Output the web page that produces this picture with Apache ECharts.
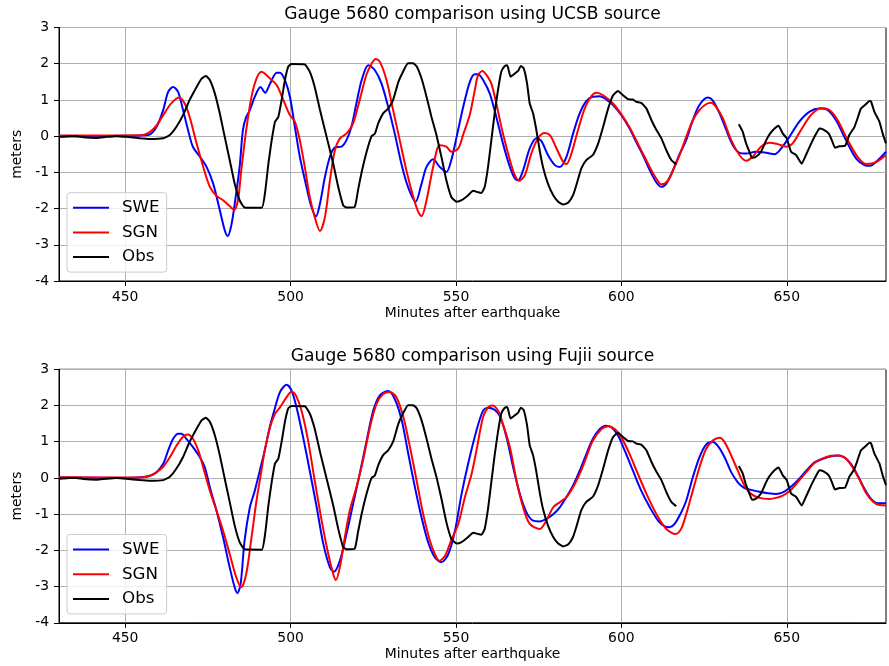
<!DOCTYPE html>
<html><head><meta charset="utf-8">
<script src="https://cdn.jsdelivr.net/npm/echarts@6/dist/echarts.min.js"></script>
<style>html,body{margin:0;padding:0;background:#fff}#c{width:889px;height:666px}</style>
</head><body><div id="c"></div>
<script>
// ---- data (minutes after earthquake, meters) ----
const xTicks = [450, 500, 550, 600, 650];
const titles = ['Gauge 5680 comparison using UCSB source', 'Gauge 5680 comparison using Fujii source'];
const seriesNames = ['SWE', 'SGN', 'Obs'];

const obs = [[430,-0.02],[433.3,0],[435.3,0],[437.3,-0.03],[441.3,-0.05],[444.4,-0.02],[447.4,0],[450.4,-0.02],[454.4,-0.06],[457.5,-0.08],[461.5,-0.06],[463.5,0.03],[465.5,0.26],[467.5,0.58],[469.5,1.0],[471.6,1.36],[473.1,1.59],[474.4,1.66],[475.6,1.55],[477.1,1.18],[478.6,0.63],[480.1,-0.02],[481.6,-0.66],[483.1,-1.31],[484.6,-1.77],[486.1,-1.97],[491.3,-1.98],[492.3,-1.55],[493.3,-0.76],[494.3,-0.11],[495.3,0.4],[496.3,0.53],[497.3,1.0],[498.3,1.55],[499.3,1.92],[500.3,1.99],[504.3,1.98],[505.8,1.78],[507.3,1.36],[508.9,0.72],[510.9,-0.02],[512.9,-0.76],[514.4,-1.4],[515.9,-1.91],[516.9,-1.97],[519.4,-1.95],[520.4,-1.49],[521.5,-0.99],[523,-0.43],[524.5,0],[525.5,0.07],[526.5,0.35],[528,0.63],[529.5,0.76],[531,1.0],[532.6,1.5],[534,1.78],[535.5,2.01],[537,2.01],[538.1,1.93],[539.6,1.59],[541.1,1.09],[542.6,0.53],[544.1,0.03],[545.6,-0.57],[547.1,-1.22],[548.6,-1.68],[550.2,-1.81],[551.7,-1.77],[553.7,-1.63],[555.2,-1.51],[556.7,-1.55],[557.7,-1.57],[558.7,-1.4],[559.7,-0.85],[560.7,-0.11],[561.7,0.63],[562.7,1.27],[563.7,1.78],[564.7,1.93],[565.5,1.96],[566.5,1.64],[567.8,1.73],[568.8,1.8],[569.6,1.94],[570.5,1.87],[571.5,1.45],[572.3,0.9],[573.3,0.63],[574.3,0.17],[575.3,-0.39],[576.3,-0.85],[577.8,-1.31],[579.4,-1.63],[580.9,-1.81],[582.4,-1.89],[583.9,-1.84],[585.4,-1.63],[586.4,-1.35],[587.9,-0.89],[589.4,-0.66],[591.4,-0.52],[593,-0.2],[594.5,0.26],[596,0.76],[597.5,1.13],[599,1.25],[600.5,1.13],[602,1.02],[603.5,1.01],[604.5,0.95],[606,0.92],[607.6,0.76],[609.1,0.44],[610.6,0.17],[612.1,-0.06],[613.6,-0.39],[615.1,-0.66],[616.6,-0.78],[626,'-'],[635.5,0.33],[636.7,0.12],[637.7,-0.2],[638.7,-0.43],[639.5,-0.6],[640.7,-0.57],[642.2,-0.43],[643.8,-0.11],[644.8,0.05],[646.3,0.21],[647.5,0.29],[648.8,0.07],[650,-0.06],[651.3,-0.43],[652.8,-0.52],[654.5,-0.76],[655.8,-0.52],[657.4,-0.2],[658.9,0.07],[659.9,0.21],[661.1,0.18],[662.7,0.07],[663.7,-0.13],[664.6,-0.32],[665.9,-0.28],[667.6,-0.27],[668.9,0.03],[670.4,0.24],[671.4,0.49],[672.4,0.76],[673.9,0.88],[675,0.97],[675.5,0.95],[676.5,0.67],[678,0.4],[679,0.07],[680,-0.2]];

const ucsbSWE = [[430,0.0],[440,0.0],[450,0.01],[455,0.02],[457.5,0.05],[459.5,0.26],[461.5,0.72],[463,1.22],[464.5,1.36],[466,1.22],[467.5,0.72],[469,0.17],[470.5,-0.3],[472.6,-0.57],[474.6,-0.85],[476.6,-1.31],[478.6,-2.04],[480.1,-2.6],[481,-2.76],[482,-2.5],[483,-1.95],[484.6,-0.85],[485.6,0.17],[486.6,0.53],[487.7,0.72],[489.2,1.09],[490.9,1.36],[492.3,1.2],[493.8,1.45],[495.8,1.75],[496.8,1.75],[498.3,1.55],[499.8,1.09],[501.3,0.26],[502.8,-0.57],[504.8,-1.4],[506.3,-1.95],[507.7,-2.21],[508.9,-1.86],[510.4,-1.12],[511.9,-0.57],[513.4,-0.31],[515.4,-0.29],[516.9,-0.11],[518.4,0.26],[519.9,0.9],[521.5,1.55],[523.5,1.96],[525.5,1.82],[527.5,1.45],[529.5,0.81],[531.5,0.07],[533.5,-0.76],[535.5,-1.4],[537.8,-1.81],[539.6,-1.31],[541.1,-0.85],[543.1,-0.64],[545.1,-0.85],[547.1,-0.99],[548.6,-0.66],[550.2,-0.02],[552.2,0.81],[554.2,1.5],[555.7,1.71],[556.7,1.71],[558.2,1.55],[560.2,1.18],[562.2,0.53],[564.2,-0.2],[566.3,-0.85],[567.8,-1.17],[568.8,-1.22],[570.3,-0.94],[572.3,-0.34],[574.3,-0.06],[575.8,-0.13],[577.8,-0.52],[579.9,-0.8],[581.4,-0.85],[583.4,-0.57],[585.4,0.07],[587.4,0.63],[589.4,0.97],[591.4,1.09],[593.5,1.1],[595.5,1.01],[597.5,0.86],[600,0.58],[602.5,0.21],[604.5,-0.16],[606.5,-0.52],[608.6,-0.94],[610.6,-1.28],[612.1,-1.4],[613.6,-1.31],[615.6,-0.94],[617.6,-0.5],[619.6,-0.11],[621.6,0.44],[623.6,0.86],[626.1,1.07],[627.6,0.99],[629.7,0.63],[631.7,0.17],[633.7,-0.25],[635.7,-0.46],[637.7,-0.48],[640.7,-0.43],[643.8,-0.46],[646.3,-0.5],[648.3,-0.34],[650.8,-0.02],[653.8,0.4],[656.8,0.67],[659.9,0.76],[662.4,0.72],[664.9,0.44],[667.9,-0.11],[671,-0.62],[673.5,-0.8],[675,-0.82],[677,-0.71],[680,-0.43]];

const ucsbSGN = [[430,0.02],[450,0.02],[455.4,0.03],[457.5,0.12],[459.5,0.3],[461.5,0.58],[463.5,0.86],[465.5,1.04],[466.5,1.07],[468,0.9],[469.5,0.53],[471.6,-0.2],[473.6,-0.85],[475.6,-1.4],[477.6,-1.65],[479.6,-1.77],[481.6,-1.93],[482.9,-2.04],[484.1,-1.77],[485.1,-0.94],[486.6,0.17],[488.2,1.09],[489.7,1.59],[491.2,1.78],[492.7,1.69],[493.8,1.59],[495.8,1.41],[497.8,1.0],[499.8,0.58],[501.3,0.4],[502.8,-0.11],[504.3,-0.85],[505.8,-1.68],[507.3,-2.23],[508.9,-2.62],[510.4,-2.23],[511.9,-1.22],[513.4,-0.39],[514.9,-0.06],[516.9,0.07],[518.9,0.35],[520.9,1.0],[522.9,1.69],[524.5,2.0],[525.7,2.13],[527,2.05],[529,1.55],[531,0.72],[533,-0.11],[535,-0.94],[537.1,-1.68],[538.6,-2.09],[539.6,-2.21],[541.1,-1.77],[543.1,-0.85],[545.1,-0.25],[547.1,-0.29],[548.6,-0.43],[550.7,-0.34],[552.2,0.05],[554.2,0.6],[555.7,1.27],[556.7,1.69],[558,1.8],[559.2,1.69],[560.7,1.45],[562.2,0.9],[564.2,0.07],[566.3,-0.66],[567.8,-1.08],[569.1,-1.23],[570.8,-1.08],[572.8,-0.48],[574.8,-0.06],[576.8,0.09],[578.4,0.03],[580.4,-0.34],[582.4,-0.71],[583.4,-0.77],[584.9,-0.48],[586.9,0.17],[588.9,0.76],[590.9,1.1],[592.4,1.2],[594.5,1.13],[597.5,0.9],[600,0.6],[602.5,0.24],[606.5,-0.48],[609.6,-1.03],[611.6,-1.31],[612.1,-1.33],[614.1,-1.22],[616.1,-0.85],[618.1,-0.4],[619.6,-0.02],[621.6,0.44],[623.6,0.72],[625.6,0.88],[627.1,0.92],[628.6,0.81],[630.7,0.49],[633.2,-0.11],[635.7,-0.52],[637.7,-0.68],[639.7,-0.57],[642.2,-0.29],[644.8,-0.18],[647.3,-0.22],[649.8,-0.29],[651.8,-0.2],[654.3,0.17],[657.3,0.58],[660.4,0.78],[662.9,0.72],[665.4,0.44],[668.4,-0.11],[671.4,-0.57],[673.9,-0.77],[676,-0.75],[678,-0.66],[680,-0.52]];

const fujiiSWE = [[430,0.01],[450,0.0],[455,0.02],[457.5,0.06],[459.5,0.16],[461.5,0.39],[463,0.76],[464.5,1.08],[466,1.22],[467,1.22],[468.5,1.08],[470.5,0.85],[472.6,0.57],[474.1,0.29],[475.6,-0.26],[477.6,-0.9],[479.6,-1.64],[481.6,-2.47],[483.1,-3.02],[483.9,-3.18],[484.9,-2.93],[486.1,-1.73],[487.7,-0.81],[489.2,-0.35],[490.7,0.2],[492.2,0.76],[493.7,1.4],[494.8,1.77],[496.8,2.37],[498.8,2.57],[500.3,2.41],[501.8,1.95],[503.8,1.12],[505.8,0.2],[507.9,-0.81],[509.9,-1.82],[511.9,-2.47],[513.1,-2.59],[514.9,-2.29],[516.9,-1.55],[518.9,-0.72],[520.9,0.11],[523,1.03],[525,1.86],[527,2.28],[529.5,2.4],[531.5,2.18],[533.6,1.59],[535.6,0.66],[537.6,-0.26],[539.6,-1.09],[541.6,-1.78],[543.6,-2.19],[545.6,-2.33],[547.7,-2.1],[549.7,-1.46],[551.7,-0.44],[553.7,0.4],[556.2,1.31],[558.2,1.86],[559.7,1.94],[561.7,1.88],[563.2,1.72],[565.3,1.12],[567.3,0.29],[569.3,-0.44],[571.3,-0.95],[573.3,-1.18],[575.3,-1.2],[577.3,-1.13],[579.4,-1.0],[581.4,-0.81],[583.4,-0.53],[585.4,-0.21],[587.4,0.2],[589.4,0.66],[591.4,1.08],[593.5,1.35],[595.3,1.44],[597,1.4],[599,1.17],[601,0.76],[603.5,0.2],[606,-0.35],[608.6,-0.81],[611.1,-1.18],[613.1,-1.34],[614.6,-1.36],[616.1,-1.27],[618.1,-0.95],[619.6,-0.63],[621.6,0.02],[623.6,0.57],[625.6,0.92],[627.6,0.99],[629.1,0.89],[631.2,0.57],[633.2,0.16],[635.2,-0.12],[637.2,-0.28],[639.2,-0.33],[641.7,-0.38],[644.3,-0.42],[646.8,-0.44],[648.8,-0.4],[650.8,-0.28],[653.3,-0.07],[655.9,0.2],[658.4,0.43],[660.9,0.53],[663.4,0.6],[665.4,0.62],[667.4,0.57],[669.4,0.39],[671.5,0.06],[673.5,-0.3],[675.5,-0.58],[677.5,-0.7],[680,-0.7]];

const fujiiSGN = [[430,0.02],[450,0.01],[455.4,0.02],[457.5,0.06],[459.5,0.16],[461.5,0.31],[463.5,0.57],[465.5,0.89],[467.5,1.14],[469,1.2],[470.5,1.08],[472.1,0.76],[473.6,0.29],[475.6,-0.35],[477.6,-0.9],[479.6,-1.46],[481.6,-2.1],[483.6,-2.75],[485.1,-3.02],[486.6,-2.65],[488.2,-1.64],[489.7,-0.63],[491.2,0.2],[492.2,0.76],[493.8,1.4],[495.3,1.77],[496.8,1.95],[498.8,2.23],[500.3,2.39],[501.6,2.28],[503.3,1.86],[505.3,1.03],[507.3,-0.07],[509.4,-1.18],[511.4,-2.1],[512.9,-2.65],[513.7,-2.82],[514.9,-2.47],[516.4,-1.64],[517.9,-0.9],[519.9,-0.26],[521.9,0.48],[524,1.4],[526,2.05],[528,2.32],[530,2.37],[532,2.23],[534.1,1.68],[536.1,0.85],[538.1,-0.07],[540.1,-1.0],[542.1,-1.73],[543.6,-2.1],[545,-2.29],[546.7,-2.15],[548.7,-1.69],[550.7,-1.27],[552.7,-0.53],[554.7,0.1],[556.2,0.76],[558.2,1.68],[559.7,1.95],[561,2.0],[562.7,1.86],[564.2,1.49],[566.3,0.85],[568.3,-0.07],[570.3,-0.81],[572.3,-1.27],[575.3,-1.41],[577.3,-1.18],[579.4,-0.81],[581.4,-0.67],[583.4,-0.53],[585.4,-0.26],[587.4,0.11],[589.4,0.57],[591.4,1.03],[594,1.35],[596,1.43],[598,1.35],[600,1.12],[602.5,0.66],[605,0.11],[607.6,-0.44],[610.6,-1.0],[613.6,-1.41],[616.4,-1.55],[618.1,-1.4],[619.6,-1.0],[621.6,-0.35],[623.6,0.29],[625.6,0.8],[627.6,1.03],[629.7,1.11],[631.2,0.99],[633.2,0.62],[635.2,0.2],[637.2,-0.21],[639.2,-0.44],[641.7,-0.55],[644.8,-0.58],[646.8,-0.55],[648.8,-0.49],[650.8,-0.37],[653.3,-0.12],[655.9,0.16],[658.4,0.41],[660.9,0.54],[663.4,0.61],[665.9,0.62],[667.9,0.53],[669.9,0.29],[671.9,-0.03],[673.9,-0.4],[676,-0.65],[678,-0.75],[680,-0.76]];

// ---- chart ----
const FONT = 'DejaVu Sans';
const colors = { SWE: '#0000ff', SGN: '#ff0000', Obs: '#000000' };
const panelTops = [27.5, 369.3];
const panelH = 253.5;
const plotLeft = 59, plotW = 827;

function xAxisFor(i) {
  return {
    type: 'value', gridIndex: i, min: 430, max: 680,
    name: 'Minutes after earthquake', nameLocation: 'middle', nameGap: 25,
    nameTextStyle: { fontFamily: FONT, fontSize: 13.9, color: '#000' },
    axisLine: { show: true, onZero: false, lineStyle: { color: '#000', width: 1 } },
    axisTick: { show: true, length: 5, customValues: xTicks, lineStyle: { color: '#000', width: 1 } },
    axisLabel: { customValues: xTicks, margin: 9, fontFamily: FONT, fontSize: 13.9, color: '#000' },
    splitLine: { show: true, lineStyle: { color: '#b0b0b0', width: 1 } }
  };
}
function yAxisFor(i) {
  return {
    type: 'value', gridIndex: i, min: -4, max: 3, interval: 1,
    name: 'meters', nameLocation: 'middle', nameGap: 34,
    nameTextStyle: { fontFamily: FONT, fontSize: 13.9, color: '#000' },
    axisLine: { show: true, onZero: false, lineStyle: { color: '#000', width: 1 } },
    axisTick: { show: true, length: 5, lineStyle: { color: '#000', width: 1 } },
    axisLabel: { margin: 10, fontFamily: FONT, fontSize: 13.9, color: '#000' },
    splitLine: { show: true, lineStyle: { color: '#b0b0b0', width: 1 } }
  };
}
function legendFor(i) {
  return {
    orient: 'vertical', left: 67, top: panelTops[i] + 165.2,
    data: seriesNames, icon: 'rect', itemWidth: 36, itemHeight: 2, itemGap: 4.7,
    padding: [5, 7, 5, 6],
    backgroundColor: 'rgba(255,255,255,0.8)', borderColor: '#cccccc', borderWidth: 1, borderRadius: 3,
    textStyle: { fontFamily: FONT, fontSize: 16.7, color: '#000', lineHeight: 20, padding: [0, 0, 0, 8] }
  };
}
function lineSeries(name, data, i) {
  return {
    name, type: 'line', xAxisIndex: i, yAxisIndex: i, data,
    showSymbol: false, symbol: 'none', smooth: name === 'Obs' ? 0.15 : 0.3,
    lineStyle: { color: colors[name], width: 2 }, itemStyle: { color: colors[name] },
    connectNulls: false, clip: true, animation: false, z: name === 'Obs' ? 4 : (name === 'SGN' ? 3 : 2)
  };
}

const panels = [[ucsbSWE, ucsbSGN, obs], [fujiiSWE, fujiiSGN, obs]];
const option = {
  animation: false,
  backgroundColor: '#fff',
  title: titles.map((t, i) => ({
    text: t, left: 472.5, top: panelTops[i] - 21, textAlign: 'center', padding: 0,
    textStyle: { fontFamily: FONT, fontSize: 17.1, fontWeight: 'normal', color: '#000' }
  })),
  grid: panelTops.map(t => ({ left: plotLeft, top: t, width: plotW, height: panelH, show: true, borderColor: '#000', borderWidth: 1, backgroundColor: 'transparent' })),
  xAxis: [xAxisFor(0), xAxisFor(1)],
  yAxis: [yAxisFor(0), yAxisFor(1)],
  legend: [legendFor(0), legendFor(1)],
  series: panels.flatMap((p, i) => p.map((d, k) => lineSeries(seriesNames[k], d, i)))
};
const chart = echarts.init(document.getElementById('c'), null, { renderer: 'canvas' });
chart.setOption(option);
</script>
</body></html>
